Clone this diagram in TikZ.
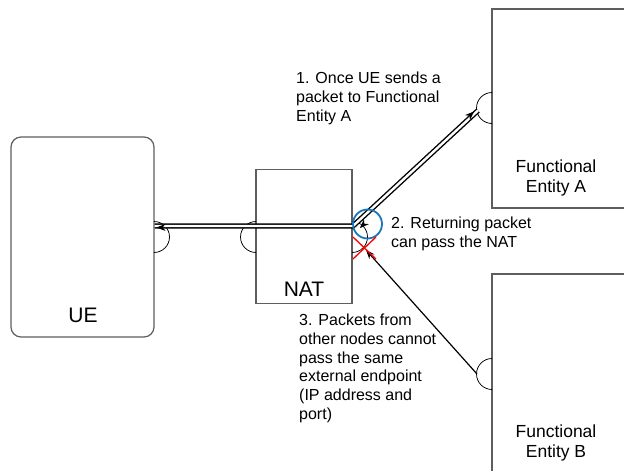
\documentclass[tikz,border=0pt]{standalone}
\usepackage{fontspec}
\setmainfont{Liberation Sans}
\usetikzlibrary{arrows.meta,calc}
\definecolor{boxgray}{HTML}{5E5E5E}
\definecolor{circblue}{HTML}{1B75BC}
\definecolor{xred}{HTML}{FF0000}
\begin{document}
\begin{tikzpicture}[x=1pt,y=-1pt,
  box/.style={draw=boxgray, line width=1.2pt, inner sep=0pt},
  sock/.style={draw=black, line width=0.75pt},
  link/.style={draw=black, line width=1.4pt, double=white, double distance=2.4pt},
  tipstyle/.style={-{Stealth[length=9pt,width=7pt]}, line width=0.8pt},
  lbl/.style={font=\fontsize{16}{18.7}\selectfont, align=left, anchor=north west, inner sep=0pt},
  big/.style={font=\fontsize{17.5}{20.5}\selectfont, align=center, inner sep=0pt},
  huge/.style={font=\fontsize{21}{24}\selectfont, inner sep=0pt}]
\useasboundingbox (0,0) rectangle (624,471);
\fill[white] (0,0) rectangle (624,471);
\clip (0,0) rectangle (624,471);
% boxes
\node[box, rounded corners=10pt, minimum width=143pt, minimum height=200pt] (ue) at (82.5,237) {};
\node[box, minimum width=96pt, minimum height=134pt] (nat) at (304,236.5) {};
\node[box, minimum width=160pt, minimum height=199pt] (fea) at (572,108.5) {};
\node[box, minimum width=160pt, minimum height=240pt] (feb) at (572,394) {};
% box texts
\node[huge] (uelbl) at (83,315) {UE};
\node[huge] (natlbl) at (304,289) {NAT};
\node[big] (fealbl) at (556,178) {Functional\\Entity A};
\node[big] (feblbl) at (556,443) {Functional\\Entity B};
% sockets
\draw[sock] (154,221.5) arc[start angle=-90, end angle=90, radius=15.5];
\draw[sock] (256,221.5) arc[start angle=-90, end angle=-270, radius=15.5];
\draw[sock] (352,221.5) arc[start angle=-90, end angle=90, radius=15.5];
\draw[sock] (492,92.5) arc[start angle=-90, end angle=-270, radius=15.5];
\draw[sock] (492,358.5) arc[start angle=-90, end angle=-270, radius=15.5];
% connector points
\coordinate (ueP) at (154.5,226);
\coordinate (J) at (353,226);
\coordinate (feaP) at (478,110.5);
\coordinate (febP) at (477,374);
\coordinate (natB) at (366,250);
% double link UE - NAT - FE A
\draw[link] (ueP) -- (J) -- (feaP);
% arrow tips on the double link
\coordinate (tipUE) at (156.5,227.5);
\coordinate (tipFEA) at (474,111.5);
\coordinate (tipJ) at (360,228);
\draw[tipstyle] ($(tipUE)!1pt!(J)$) -- (tipUE);
\draw[tipstyle] ($(tipFEA)!1pt!(J)$) -- (tipFEA);
\draw[tipstyle] ($(tipJ)!1pt!(feaP)$) -- (tipJ);
% FE B link
\draw[line width=1.2pt, -{Stealth[length=9pt,width=7pt]}] (febP) -- (natB);
% blue circle and red cross
\node[draw=circblue, line width=1.8pt, circle, minimum size=29pt, inner sep=0pt] (ok) at (367.5,224) {};
\draw[xred, line width=1.3pt] (353,237) -- (376,259);
\draw[xred, line width=1.3pt] (353,259) -- (376,237);
% labels
\node[lbl] (l1) at (296,72) {1. Once UE sends a\\packet to Functional\\Entity A};
\node[lbl] (l2) at (391,217) {2. Returning packet\\can pass the NAT};
\node[lbl] (l3) at (299,314) {3. Packets from\\other nodes cannot\\pass the same\\external endpoint\\(IP address and\\port)};
\end{tikzpicture}
\end{document}
